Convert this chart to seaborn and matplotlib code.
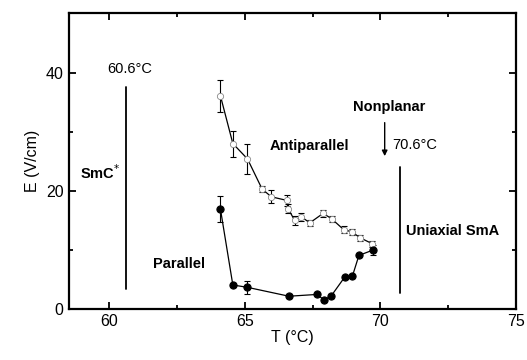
import matplotlib
matplotlib.use("Agg")
import matplotlib.pyplot as plt
import seaborn as sns
import pandas as pd

# Parallel (filled circles)
par_T = [64.10, 64.56, 65.10, 66.63, 67.66, 67.92, 68.18, 68.68, 68.97, 69.21, 69.73]
par_E = [17.0, 4.1, 3.7, 2.2, 2.5, 1.6, 2.2, 5.4, 5.6, 9.1, 10.0]
par_err = [2.2, 0.4, 1.1, 0.3, 0.3, 0.3, 0.3, 0.3, 0.3, 0.3, 0.9]

# Antiparallel (open circles)
anti_T = [64.10, 64.56, 65.10, 65.64, 65.98, 66.54, 66.60, 66.84, 67.09, 67.40,
          67.89, 68.20, 68.66, 68.95, 69.24, 69.69]
anti_E = [36.1, 28.0, 25.4, 20.3, 19.0, 18.4, 17.0, 15.0, 15.6, 14.6,
          16.2, 15.3, 13.4, 13.1, 12.1, 11.1]
anti_err = [2.7, 2.2, 2.6, 0.5, 1.1, 0.9, 0.8, 0.8, 0.7, 0.5,
            0.6, 0.5, 0.6, 0.5, 0.5, 0.5]

par = pd.DataFrame({"T": par_T, "E": par_E})
anti = pd.DataFrame({"T": anti_T, "E": anti_E})

sns.set_style("ticks")
plt.rcParams["font.family"] = ["Liberation Sans", "DejaVu Sans"]
plt.rcParams["text.color"] = "black"
plt.rcParams["axes.labelcolor"] = "black"
plt.rcParams["xtick.color"] = "black"
plt.rcParams["ytick.color"] = "black"
plt.rcParams["axes.edgecolor"] = "black"

fig = plt.figure(figsize=(5.27, 3.6), dpi=100)
ax = fig.add_axes([0.13, 0.141, 0.849, 0.822])

ax.errorbar(anti_T, anti_E, yerr=anti_err, fmt="none", ecolor="black",
            elinewidth=0.8, capsize=2.5, capthick=0.8, zorder=2)
ax.errorbar(par_T, par_E, yerr=par_err, fmt="none", ecolor="black",
            elinewidth=0.8, capsize=2.5, capthick=0.8, zorder=2)
sns.lineplot(data=anti, x="T", y="E", ax=ax, color="black", lw=0.9,
             marker="o", markersize=4.5, markerfacecolor="white",
             markeredgecolor="#888888", markeredgewidth=0.6, sort=False, zorder=3)
sns.lineplot(data=par, x="T", y="E", ax=ax, color="black", lw=0.9,
             marker="o", markersize=5.2, markerfacecolor="black",
             markeredgecolor="black", sort=False, zorder=4)

# phase boundaries
ax.plot([60.62, 60.62], [3.4, 37.5], color="black", lw=1.3)
ax.plot([70.74, 70.74], [2.8, 24.0], color="black", lw=1.3)
ax.annotate("", xy=(70.16, 25.4), xytext=(70.16, 32.0),
            arrowprops=dict(arrowstyle="-|>", color="black", lw=1.0,
                            mutation_scale=8))

ax.text(60.77, 40.6, "60.6°C", ha="center", va="center", fontsize=10.5)
ax.text(59.66, 23.0, "SmC$^{*}$", ha="center", va="center", fontsize=10.5,
        fontweight="bold")
ax.text(70.34, 34.1, "Nonplanar", ha="center", va="center", fontsize=10.5,
        fontweight="bold")
ax.text(70.45, 27.7, "70.6°C", ha="left", va="center", fontsize=10.5)
ax.text(67.37, 27.5, "Antiparallel", ha="center", va="center", fontsize=10.5,
        fontweight="bold")
ax.text(70.96, 13.2, "Uniaxial SmA", ha="left", va="center", fontsize=10.5,
        fontweight="bold")
ax.text(62.57, 7.6, "Parallel", ha="center", va="center", fontsize=10.5,
        fontweight="bold")

ax.set_xlim(58.5, 75)
ax.set_ylim(0, 50)
ax.set_xticks([60, 65, 70, 75])
ax.set_xticks([62.5, 67.5, 72.5], minor=True)
ax.set_yticks([0, 20, 40])
ax.set_yticks([10, 30, 50], minor=True)
ax.tick_params(which="both", direction="in", top=True, right=True,
               labelsize=11.5, width=1.3)
ax.tick_params(which="major", length=5)
ax.tick_params(which="minor", length=3)
for s in ax.spines.values():
    s.set_linewidth(1.6)

ax.set_xlabel("T (°C)", fontsize=11.5, labelpad=1)
ax.set_ylabel("E (V/cm)", fontsize=11.5, labelpad=4)

fig.savefig("out.png", dpi=100)
